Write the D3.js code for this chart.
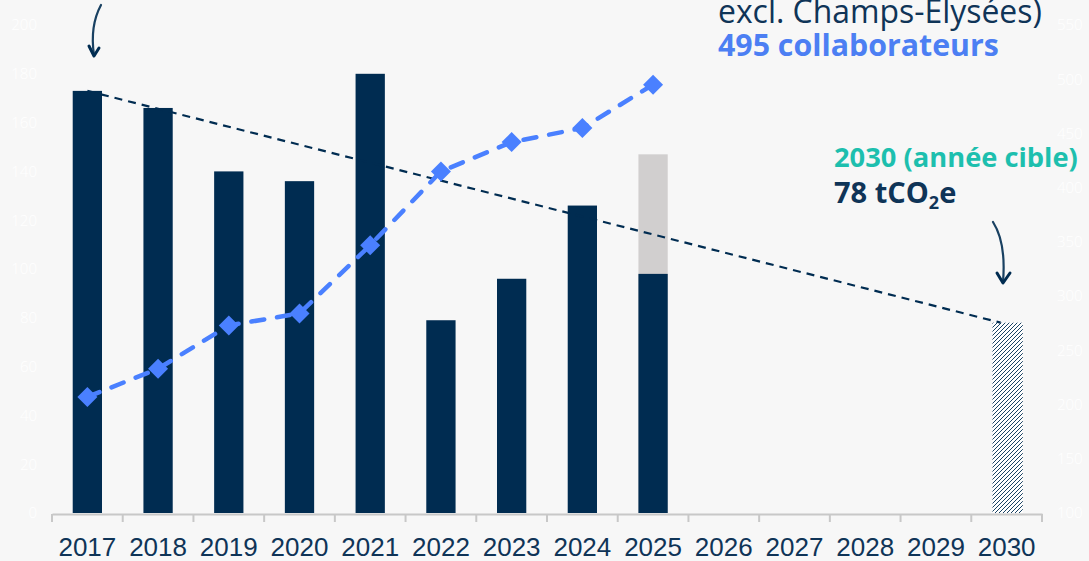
<!DOCTYPE html>
<html><head><meta charset="utf-8">
<script src="https://cdn.jsdelivr.net/npm/d3@7"></script>
<style>
html,body{margin:0;padding:0;background:#f7f7f7;}
svg{display:block;font-family:"Open Sans",sans-serif;}
</style></head>
<body><svg id="c" width="1089" height="561"></svg>
<script>
const years = ["2017","2018","2019","2020","2021","2022","2023","2024","2025","2026","2027","2028","2029","2030"];
const emissionYears = ["2017","2018","2019","2020","2021","2022","2023","2024","2025"];
const emissions = [173, 166, 140, 136, 180, 79, 96, 126, 98];
const estimateYears = ["2025"];
const estimateTotals = [147];
const targetYears = ["2030"];
const targetValues = [78];
const staff = [207, 233, 273, 284, 347, 415, 442, 455, 495];
const leftTicks = [0,20,40,60,80,100,120,140,160,180,200];
const rightTicks = [100,150,200,250,300,350,400,450,500,550];

const navy = "#002c51", textNavy = "#0f3457", blue = "#4a80ff", teal = "#1dbfae", gray = "#d1cfcf";
const svg = d3.select("#c");
const x = d3.scaleBand().domain(years).range([52, 1042]).paddingInner(0.6).paddingOuter(0.3);
const xc = d => x(d) + x.bandwidth()/2;
const yL = d3.scaleLinear().domain([0,200]).range([513,25]);
const yR = d3.scaleLinear().domain([100,550]).range([513,25]);

// hatch pattern
const defs = svg.append("defs");
const pat = defs.append("pattern").attr("id","hatch").attr("patternUnits","userSpaceOnUse")
  .attr("width",4).attr("height",4);
pat.append("rect").attr("width",4).attr("height",4).attr("fill","#ffffff");
pat.append("path").attr("d","M-1,1 l2,-2 M0,4 l4,-4 M3,5 l2,-2").attr("stroke",navy).attr("stroke-width",0.9);

// axes labels (white)
const gl = svg.append("g").attr("transform","translate(37,0)")
  .call(d3.axisLeft(yL).tickValues(leftTicks).tickSize(0).tickPadding(0));
gl.select(".domain").remove();
gl.selectAll("text").attr("fill","#ffffff").attr("font-size",15).attr("font-family","Open Sans").attr("font-weight",300);
const gr = svg.append("g").attr("transform","translate(1057,0)")
  .call(d3.axisRight(yR).tickValues(rightTicks).tickSize(0).tickPadding(0));
gr.select(".domain").remove();
gr.selectAll("text").attr("fill","#ffffff").attr("font-size",15).attr("font-family","Open Sans").attr("font-weight",300);

// bars
svg.append("g").selectAll("rect").data(estimateYears).join("rect")
  .attr("x", d => x(d)-0.5).attr("width", x.bandwidth()+1)
  .attr("y", (d,i) => yL(estimateTotals[i])).attr("height", (d,i) => yL(0)-yL(estimateTotals[i]))
  .attr("fill", gray);
svg.append("g").selectAll("rect").data(emissionYears).join("rect")
  .attr("x", d => x(d)-0.5).attr("width", x.bandwidth()+1)
  .attr("y", (d,i) => yL(emissions[i])).attr("height", (d,i) => yL(0)-yL(emissions[i]))
  .attr("fill", navy);
svg.append("g").selectAll("rect").data(targetYears).join("rect")
  .attr("x", d => x(d)).attr("width", x.bandwidth()+2)
  .attr("y", (d,i) => yL(targetValues[i])).attr("height", (d,i) => yL(0)-yL(targetValues[i]))
  .attr("fill", "url(#hatch)");

// x axis
const gx = svg.append("g").attr("transform","translate(0,514)")
  .call(d3.axisBottom(x).tickSize(0).tickPadding(0));
gx.select(".domain").attr("stroke","#c8c8c8").attr("stroke-width",2);
gx.selectAll("text").attr("fill",textNavy).attr("font-size",26).attr("dy",0).attr("y",42);
const step = x.step();
gx.append("g").selectAll("line").data(d3.range(years.length+1)).join("line")
  .attr("x1", i => 52 + i*step).attr("x2", i => 52 + i*step)
  .attr("y1",0).attr("y2",8).attr("stroke","#c8c8c8").attr("stroke-width",2);

// trend line
svg.append("line")
  .attr("x1", xc(years[0])).attr("y1", yL(emissions[0]))
  .attr("x2", xc(targetYears[0])-6).attr("y2", yL(targetValues[0]))
  .attr("stroke", navy).attr("stroke-width",2.2).attr("stroke-dasharray","8,6");

// staff line
const line = d3.line().x((d,i)=>xc(emissionYears[i])).y(d=>yR(d));
svg.append("path").datum(staff).attr("d", line).attr("fill","none")
  .attr("stroke", blue).attr("stroke-width",4.5).attr("stroke-linecap","round")
  .attr("stroke-dasharray","13,13");
svg.append("g").selectAll("path").data(staff).join("path")
  .attr("d","M0,-10L10,0L0,10L-10,0Z")
  .attr("transform",(d,i)=>`translate(${xc(emissionYears[i])},${yR(d)})`)
  .attr("fill", blue);

// arrows
function arrow(d, head){
  svg.append("path").attr("d",d).attr("fill","none").attr("stroke",navy).attr("stroke-width",2.2).attr("stroke-linecap","round").attr("opacity",0.9);
  svg.append("path").attr("d",head).attr("fill","none").attr("stroke",navy).attr("stroke-width",3).attr("stroke-linecap","round").attr("stroke-linejoin","round");
}
arrow("M101,5 C94,18 91,35 94,55", "M89,46 L94,56 L99,48");
arrow("M993,222 C1002,236 1005,258 1003,282", "M997,273 L1003,283 L1010,273");

// annotations
function fitText(t, w){
  const n = t.node(); const l = n.getComputedTextLength();
  const fs = parseFloat(t.attr("font-size"));
  t.attr("font-size", fs * w / l);
}
fitText(svg.append("text").attr("x",718).attr("y",23).attr("font-size",24).attr("fill",textNavy)
  .text("excl. Champs-Elysées)"), 324);
fitText(svg.append("text").attr("x",718).attr("y",56).attr("font-size",26).attr("font-weight",700).attr("fill","#4c7ff3")
  .text("495 collaborateurs"), 281);
fitText(svg.append("text").attr("x",834).attr("y",167).attr("font-size",24).attr("font-weight",700).attr("fill",teal)
  .text("2030 (année cible)"), 244);
const t78 = svg.append("text").attr("x",834).attr("y",203).attr("font-size",29).attr("font-weight",700).attr("fill",textNavy);
t78.append("tspan").text("78 tCO");
t78.append("tspan").text("2").attr("font-size",18).attr("dy",6);
t78.append("tspan").text("e").attr("dy",-6);
</script></body></html>
